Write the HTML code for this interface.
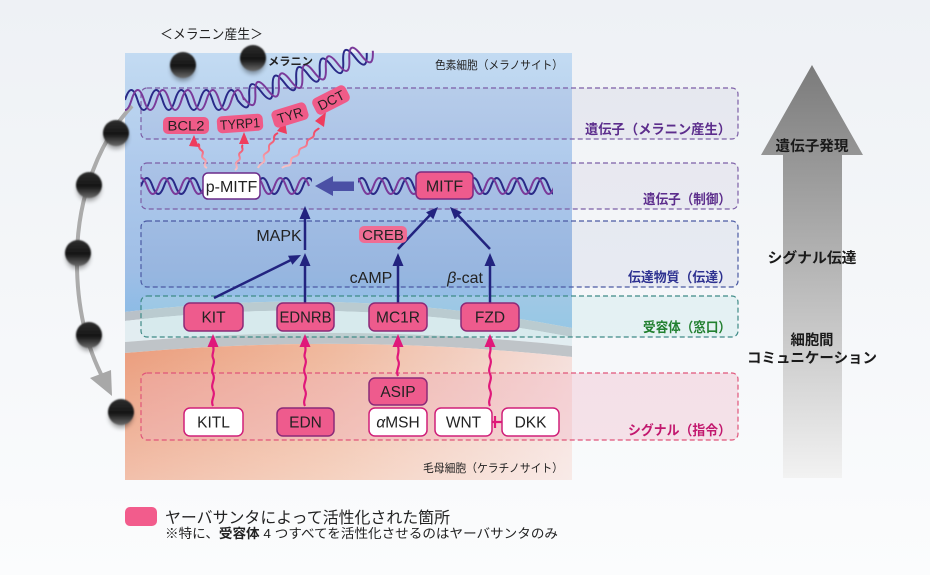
<!DOCTYPE html>
<html><head><meta charset="utf-8">
<style>
html,body{margin:0;padding:0;width:930px;height:575px;overflow:hidden;background:#f3f5f7;}
svg{display:block;}
text{font-family:"Liberation Sans","Noto Sans CJK JP",sans-serif;}
</style></head>
<body>
<svg width="930" height="575" viewBox="0 0 930 575" xmlns="http://www.w3.org/2000/svg">
<defs>
  <linearGradient id="bg" x1="0" y1="0" x2="0" y2="1">
    <stop offset="0" stop-color="#eef1f5"/><stop offset="1" stop-color="#fbfcfd"/>
  </linearGradient>
  <linearGradient id="blue" gradientUnits="userSpaceOnUse" x1="0" y1="53" x2="0" y2="330">
    <stop offset="0" stop-color="#c3dbf2"/><stop offset="0.4" stop-color="#afcaec"/>
    <stop offset="0.78" stop-color="#9fbee6"/><stop offset="1" stop-color="#86bbe5"/>
  </linearGradient>
  <linearGradient id="orange" gradientUnits="userSpaceOnUse" x1="125" y1="0" x2="572" y2="0">
    <stop offset="0" stop-color="#eb9e7e"/><stop offset="0.45" stop-color="#f0b99e"/>
    <stop offset="1" stop-color="#f5dfdb"/>
  </linearGradient>
  <linearGradient id="ofade" gradientUnits="userSpaceOnUse" x1="0" y1="350" x2="0" y2="480">
    <stop offset="0" stop-color="#ffffff" stop-opacity="0"/><stop offset="1" stop-color="#ffffff" stop-opacity="0.35"/>
  </linearGradient>
  <linearGradient id="bigarrow" gradientUnits="userSpaceOnUse" x1="0" y1="65" x2="0" y2="478">
    <stop offset="0" stop-color="#7b7b7b"/><stop offset="1" stop-color="#f2f2f2"/>
  </linearGradient>
  <linearGradient id="ball" x1="0" y1="0" x2="0" y2="1">
    <stop offset="0" stop-color="#2e2e2e"/><stop offset="0.55" stop-color="#151515"/>
    <stop offset="1" stop-color="#6a6a6a"/>
  </linearGradient>
  <linearGradient id="red" x1="0" y1="1" x2="0" y2="0">
    <stop offset="0" stop-color="#f7c4c8"/><stop offset="1" stop-color="#f0405f"/>
  </linearGradient>
  <filter id="soft" x="-50%" y="-50%" width="200%" height="200%">
    <feGaussianBlur stdDeviation="0.9"/>
  </filter>
  <filter id="shadow" x="-50%" y="-50%" width="200%" height="200%">
    <feGaussianBlur stdDeviation="2.5"/>
  </filter>
  <clipPath id="topdna"><rect x="125" y="30" width="255" height="100"/></clipPath>
  <clipPath id="middna">
    <rect x="141" y="165" width="64" height="45"/>
    <rect x="258" y="165" width="54" height="45"/>
    <rect x="358" y="165" width="60" height="45"/>
    <rect x="471" y="165" width="82" height="45"/>
  </clipPath>
</defs>

<!-- background -->
<rect width="930" height="575" fill="url(#bg)"/>

<!-- cell panels -->
<path d="M125,53 H572 V328 Q350,285 125,312 Z" fill="url(#blue)"/>
<path d="M125,312 Q350,285 572,328 V337 Q350,294 125,321 Z" fill="#b9c1c8"/>
<path d="M125,321 Q350,294 572,337 V346 Q350,322 125,342 Z" fill="#e2edf1"/>
<path d="M125,342 Q350,322 572,346 V357 Q350,333 125,353 Z" fill="#bfc4c8"/>
<path d="M125,353 Q350,333 572,357 V480 H125 Z" fill="url(#orange)"/>
<path d="M125,353 Q350,333 572,357 V480 H125 Z" fill="url(#ofade)"/>

<!-- dashed category boxes -->
<g stroke-width="1.2" stroke-dasharray="5,3">
  <rect x="141" y="88" width="597" height="51" rx="6" fill="rgba(120,100,170,0.08)" stroke="#7c5ea6"/>
  <rect x="141" y="163" width="597" height="46" rx="6" fill="rgba(120,100,170,0.08)" stroke="#7c5ea6"/>
  <rect x="141" y="221" width="597" height="66" rx="6" fill="rgba(70,80,150,0.07)" stroke="#4b5aa3"/>
  <rect x="141" y="296" width="597" height="41" rx="6" fill="rgba(190,230,228,0.3)" stroke="#3e8a86"/>
  <rect x="141" y="373" width="597" height="67" rx="6" fill="rgba(240,170,190,0.3)" stroke="#e0557a"/>
</g>

<!-- right category labels -->
<g font-weight="bold" font-size="13.5" text-anchor="end">
  <text x="731" y="134" fill="#5c2d8c" textLength="146" lengthAdjust="spacingAndGlyphs">遺伝子（メラニン産生）</text>
  <text x="731" y="204" fill="#5c2d8c" textLength="88" lengthAdjust="spacingAndGlyphs">遺伝子（制御）</text>
  <text x="731" y="282" fill="#2d3190" textLength="103" lengthAdjust="spacingAndGlyphs">伝達物質（伝達）</text>
  <text x="731" y="332" fill="#228030" textLength="88" lengthAdjust="spacingAndGlyphs">受容体（窓口）</text>
  <text x="731" y="435" fill="#c2186e" textLength="103" lengthAdjust="spacingAndGlyphs">シグナル（指令）</text>
</g>

<!-- big gray arrow -->
<polygon points="812,65 863,155 842,155 842,478 783,478 783,155 761,155" fill="url(#bigarrow)"/>
<g font-weight="bold" font-size="14.5" text-anchor="middle" fill="#1a1a1a">
  <text x="812" y="151" textLength="73" lengthAdjust="spacingAndGlyphs">遺伝子発現</text>
  <text x="812" y="263" textLength="89" lengthAdjust="spacingAndGlyphs">シグナル伝達</text>
  <text x="812" y="345" textLength="43" lengthAdjust="spacingAndGlyphs">細胞間</text>
  <text x="812" y="363" textLength="130" lengthAdjust="spacingAndGlyphs">コミュニケーション</text>
</g>

<!-- cell labels -->
<text x="435" y="69" font-size="11.5" fill="#222" textLength="128" lengthAdjust="spacingAndGlyphs">色素細胞（メラノサイト）</text>
<text x="423" y="472" font-size="11.5" fill="#222" textLength="140" lengthAdjust="spacingAndGlyphs">毛母細胞（ケラチノサイト）</text>
<text x="160" y="39" font-size="13.5" fill="#222" textLength="103" lengthAdjust="spacingAndGlyphs">＜メラニン産生＞</text>

<!-- left gray arc -->
<path d="M132,106 C100,140 78,195 77,255 C76,310 88,350 104,380" fill="none" stroke="#ababab" stroke-width="4"/>
<polygon points="112,396 90,378 111,370" fill="#a8a8a8"/>

<!-- top DNA -->
<g clip-path="url(#topdna)" fill="none" stroke-width="2">
  <path stroke="#2a2a88" d="M125,100 Q131.25,80 137.5,100 T150,100 T162.5,100 T175,100 T187.5,100 T200,100 T212.5,100 T225,100 T237.5,100"/>
  <path stroke="#7a3a9a" d="M106.5,100 Q112.75,80 119,100 T131.5,100 T144,100 T156.5,100 T169,100 T181.5,100 T194,100 T206.5,100 T219,100 T231.5,100 T244,100"/>
  <g transform="translate(237.5,100) rotate(-20)">
    <path stroke="#2a2a88" d="M0,0 Q6.25,20 12.5,0 T25,0 T37.5,0 T50,0 T62.5,0 T75,0 T87.5,0 T100,0 T112.5,0 T125,0 T137.5,0"/>
    <path stroke="#7a3a9a" d="M6.5,0 Q12.75,20 19,0 T31.5,0 T44,0 T56.5,0 T69,0 T81.5,0 T94,0 T106.5,0 T119,0 T131.5,0 T144,0"/>
  </g>
</g>

<!-- melanin balls -->
<g>
  <g opacity="0.35" filter="url(#shadow)" fill="#000">
    <circle cx="183" cy="69" r="12"/><circle cx="253" cy="62" r="12"/><circle cx="116" cy="137" r="12"/>
    <circle cx="89" cy="189" r="12"/><circle cx="78" cy="257" r="12"/><circle cx="89" cy="339" r="12"/><circle cx="121" cy="416" r="12"/>
  </g>
  <g fill="url(#ball)" filter="url(#soft)">
    <circle cx="183" cy="65" r="13"/><circle cx="253" cy="58" r="13"/><circle cx="116" cy="133" r="13"/>
    <circle cx="89" cy="185" r="13"/><circle cx="78" cy="253" r="13"/><circle cx="89" cy="335" r="13"/><circle cx="121" cy="412" r="13"/>
  </g>
</g>
<text x="268" y="65" font-size="11" font-weight="bold" fill="#222" textLength="45" lengthAdjust="spacingAndGlyphs">メラニン</text>

<!-- middle DNA -->
<g clip-path="url(#middna)" fill="none" stroke-width="2">
  <path stroke="#2a2a88" d="M141,186 Q146.75,170 152.5,186 T164,186 T175.5,186 T187,186 T198.5,186 T210,186"/>
  <path stroke="#7a3a9a" transform="translate(6,0)" d="M129.5,186 Q135.25,170 141,186 T152.5,186 T164,186 T175.5,186 T187,186 T198.5,186 T210,186"/>
  <path stroke="#2a2a88" d="M257,186 Q262.75,170 268.5,186 T280,186 T291.5,186 T303,186 T314.5,186"/>
  <path stroke="#7a3a9a" transform="translate(6,0)" d="M245.5,186 Q251.25,170 257,186 T268.5,186 T280,186 T291.5,186 T303,186"/>
  <path stroke="#2a2a88" d="M356,186 Q361.75,170 367.5,186 T379,186 T390.5,186 T402,186 T413.5,186 T425,186"/>
  <path stroke="#7a3a9a" transform="translate(6,0)" d="M344.5,186 Q350.25,170 356,186 T367.5,186 T379,186 T390.5,186 T402,186 T413.5,186"/>
  <path stroke="#2a2a88" d="M468,186 Q473.75,170 479.5,186 T491,186 T502.5,186 T514,186 T525.5,186 T537,186 T548.5,186 T560,186"/>
  <path stroke="#7a3a9a" transform="translate(6,0)" d="M456.5,186 Q462.25,170 468,186 T479.5,186 T491,186 T502.5,186 T514,186 T525.5,186 T537,186 T548.5,186"/>
</g>

<!-- thick blue arrow -->
<polygon points="315,186 333,176 333,181.5 354,181.5 354,191 333,191 333,196" fill="#4b50a5"/>

<!-- red wavy arrows to genes -->
<g fill="none" stroke="url(#red)" stroke-width="2">
  <path d="M207,168 c-6,-3 2,-6 -3,-9 c-5,-3 2,-6 -3,-9 c-4,-3 0,-5 -3,-6"/>
  <path d="M235,170 c5,-3 -2,-6 3,-9 c5,-3 -2,-6 3,-9 c4,-3 -1,-5 2,-7"/>
  <path d="M258,168 c2,-6 8,-4 6,-10 c-2,-6 6,-4 5,-10 c-1,-6 6,-4 5,-10 c0,-3 2,-4 4,-5"/>
  <path d="M282,168 c4,-4 9,0 9,-7 c0,-6 8,-3 8,-9 c0,-6 8,-3 8,-9 c0,-6 7,-3 7,-9 c0,-4 4,-4 5,-6"/>
</g>
<g fill="#ef3d5e">
  <polygon points="194,135 189,146 199,147"/>
  <polygon points="244,132 239,144 249,144"/>
  <polygon points="285,121 277,131 287,134"/>
  <polygon points="326,112 315,121 324,127"/>
</g>

<!-- gene boxes -->
<g fill="#ef5b88" font-size="13.5" text-anchor="middle">
  <g transform="translate(186,125.5)"><rect x="-23" y="-8.5" width="46" height="17" rx="5"/><text y="5" fill="#231f20" textLength="37" lengthAdjust="spacingAndGlyphs">BCL2</text></g>
  <g transform="translate(240,123.5) rotate(-4)"><rect x="-23" y="-8.5" width="46" height="17" rx="5"/><text y="5" fill="#231f20" textLength="40" lengthAdjust="spacingAndGlyphs">TYRP1</text></g>
  <g transform="translate(290,115) rotate(-17)"><rect x="-18" y="-9" width="36" height="18" rx="5"/><text y="5" fill="#231f20" textLength="26" lengthAdjust="spacingAndGlyphs">TYR</text></g>
  <g transform="translate(331,100) rotate(-27)"><rect x="-18.5" y="-9" width="37" height="18" rx="5"/><text y="5" fill="#231f20" textLength="28" lengthAdjust="spacingAndGlyphs">DCT</text></g>
</g>

<!-- p-MITF / MITF -->
<rect x="203" y="173" width="57" height="26" rx="5" fill="#ffffff" stroke="#6b2c8a" stroke-width="1.5"/>
<text x="231.5" y="192" font-size="16" text-anchor="middle" fill="#222">p-MITF</text>
<rect x="416" y="172" width="57" height="27" rx="5" fill="#ee5b8d" stroke="#7a2a80" stroke-width="1.5"/>
<text x="444.5" y="191.5" font-size="16" text-anchor="middle" fill="#222">MITF</text>

<!-- navy arrows -->
<g stroke="#22237f" stroke-width="2.5" fill="none">
  <line x1="305" y1="250" x2="305" y2="215"/>
  <line x1="305" y1="303" x2="305" y2="262"/>
  <line x1="214" y1="298" x2="293" y2="259"/>
  <line x1="398" y1="303" x2="398" y2="262"/>
  <line x1="398" y1="249" x2="432" y2="213"/>
  <line x1="490" y1="303" x2="490" y2="262"/>
  <line x1="490" y1="249" x2="456" y2="213"/>
</g>
<g fill="#22237f">
  <polygon points="305,206 299.5,219 310.5,219"/>
  <polygon points="305,253 299.5,266 310.5,266"/>
  <polygon points="301,255 292.4,264.8 288,255.8"/>
  <polygon points="398,253 392.5,266 403.5,266"/>
  <polygon points="438,207 433.3,219.2 426.1,212.3"/>
  <polygon points="490,253 484.5,266 495.5,266"/>
  <polygon points="450,207 461.9,212.3 454.7,219.2"/>
</g>

<!-- transmitter texts -->
<text x="279" y="241" font-size="16" text-anchor="middle" fill="#222">MAPK</text>
<rect x="359" y="226" width="48" height="17" rx="5" fill="#ef6d94"/>
<text x="383" y="240" font-size="15" text-anchor="middle" fill="#222">CREB</text>
<text x="371" y="283" font-size="16" text-anchor="middle" fill="#222">cAMP</text>
<text x="465" y="283" font-size="16" text-anchor="middle" fill="#222"><tspan font-style="italic">β</tspan>-cat</text>

<!-- receptor boxes -->
<g fill="#ee5b8d" stroke="#8b2a78" stroke-width="1.5">
  <rect x="184" y="303" width="59" height="28" rx="6"/>
  <rect x="277" y="303" width="57" height="28" rx="6"/>
  <rect x="369" y="303" width="58" height="28" rx="6"/>
  <rect x="461" y="303" width="58" height="28" rx="6"/>
</g>
<g font-size="15.5" text-anchor="middle" fill="#222">
  <text x="213.5" y="322.5">KIT</text>
  <text x="305.5" y="322.5" textLength="52" lengthAdjust="spacingAndGlyphs">EDNRB</text>
  <text x="398" y="322.5">MC1R</text>
  <text x="490" y="322.5">FZD</text>
</g>

<!-- magenta signal arrows -->
<g fill="none" stroke="#e0187a" stroke-width="2.2">
  <path d="M213,406 c-3,-6 3,-10 0,-16 c-3,-6 3,-10 0,-16 c-3,-6 3,-10 0,-16 c-2,-4 2,-6 0,-12"/>
  <path d="M305,406 c-3,-6 3,-10 0,-16 c-3,-6 3,-10 0,-16 c-3,-6 3,-10 0,-16 c-2,-4 2,-6 0,-12"/>
  <path d="M398,376 c-3,-6 3,-10 0,-16 c-2,-4 2,-6 0,-14"/>
  <path d="M490,406 c-3,-6 3,-10 0,-16 c-3,-6 3,-10 0,-16 c-3,-6 3,-10 0,-16 c-2,-4 2,-6 0,-12"/>
  <line x1="492" y1="422" x2="502" y2="422"/>
  <line x1="495" y1="416" x2="495" y2="428"/>
</g>
<g fill="#e0187a">
  <polygon points="213,334 207.5,347 218.5,347"/>
  <polygon points="305,334 299.5,347 310.5,347"/>
  <polygon points="398,334 392.5,347 403.5,347"/>
  <polygon points="490,334 484.5,347 495.5,347"/>
</g>

<!-- signal boxes -->
<g stroke-width="1.5">
  <rect x="184" y="408" width="59" height="28" rx="6" fill="#ffffff" stroke="#d0207a"/>
  <rect x="277" y="408" width="57" height="28" rx="6" fill="#ee5b8d" stroke="#8b2a78"/>
  <rect x="369" y="378" width="58" height="27" rx="6" fill="#ee5b8d" stroke="#8b2a78"/>
  <rect x="369" y="408" width="58" height="28" rx="6" fill="#ffffff" stroke="#d0207a"/>
  <rect x="435" y="408" width="57" height="28" rx="6" fill="#ffffff" stroke="#d0207a"/>
  <rect x="502" y="408" width="57" height="28" rx="6" fill="#ffffff" stroke="#d0207a"/>
</g>
<g font-size="15.5" text-anchor="middle" fill="#222">
  <text x="213.5" y="427.5">KITL</text>
  <text x="305.5" y="427.5">EDN</text>
  <text x="398" y="397">ASIP</text>
  <text x="398" y="427.5"><tspan font-style="italic">α</tspan>MSH</text>
  <text x="463.5" y="427.5">WNT</text>
  <text x="530.5" y="427.5">DKK</text>
</g>

<!-- legend -->
<rect x="125" y="507" width="32" height="19" rx="5" fill="#f25c8c"/>
<text x="165" y="523" font-size="16" fill="#222" textLength="285" lengthAdjust="spacingAndGlyphs">ヤーバサンタによって活性化された箇所</text>
<text x="165" y="538" font-size="13" fill="#222" textLength="393" lengthAdjust="spacingAndGlyphs">※特に、<tspan font-weight="bold">受容体</tspan> 4 つすべてを活性化させるのはヤーバサンタのみ</text>
</svg>
</body></html>
